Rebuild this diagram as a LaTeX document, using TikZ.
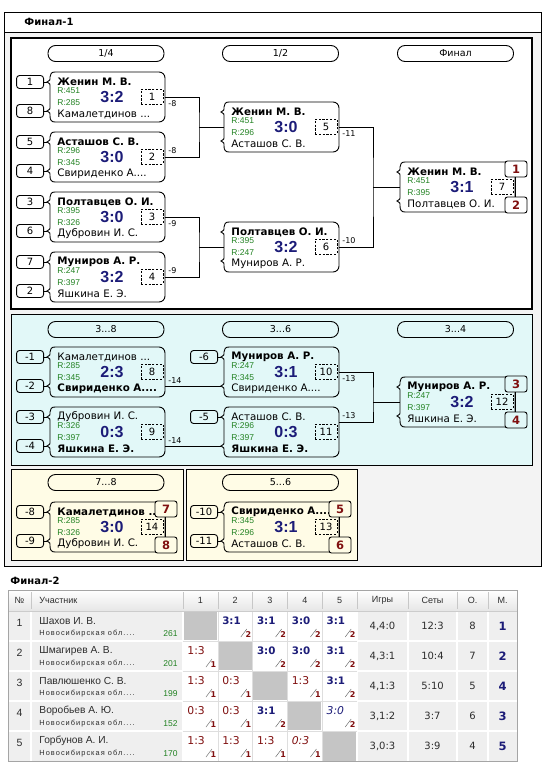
\documentclass[tikz,border=0pt]{standalone}
\usepackage{fontspec}
\setmainfont{DejaVu Sans}
\newfontfamily\arialf{Liberation Sans}
\newfontfamily\regionf[LetterSpace=14]{Liberation Sans}
\usetikzlibrary{positioning,calc}

\definecolor{scoreblue}{RGB}{28,28,120}
\definecolor{rgreen}{RGB}{34,130,34}
\definecolor{placered}{RGB}{128,16,16}
\definecolor{cyanbg}{RGB}{226,248,248}
\definecolor{yellowbg}{RGB}{255,252,230}
\definecolor{framebg}{RGB}{243,243,243}
\definecolor{cellgray}{RGB}{239,239,239}
\definecolor{diaggray}{RGB}{197,197,197}
\definecolor{hdrgray}{RGB}{230,230,230}
\definecolor{tableline}{RGB}{165,165,165}
\definecolor{celltext}{RGB}{45,45,45}

\tikzset{
  pill/.style={draw, rounded corners=7.5pt, minimum width=116pt, minimum height=16pt, inner sep=0pt, font=\fontsize{9.5}{10}\selectfont},
  seedbox/.style={draw, rounded corners=3pt, minimum width=27pt, minimum height=13pt, inner sep=0pt, font=\fontsize{10}{10}\selectfont},
  numbox/.style={draw, dash pattern=on 2.2pt off 1.6pt, minimum width=22pt, minimum height=15pt, inner sep=0pt, font=\fontsize{10}{10}\selectfont},
  placebox/.style={draw, rounded corners=2.5pt, minimum width=22pt, minimum height=16pt, inner sep=0pt, text=placered, font=\bfseries\fontsize{11.5}{12}\selectfont},
  pname/.style={anchor=west, inner sep=0pt, font=\fontsize{10.3}{11}\selectfont},
  rating/.style={anchor=west, inner sep=0pt, text=rgreen, font=\arialf\fontsize{8.5}{9}\selectfont},
  score/.style={inner sep=0pt, text=scoreblue, font=\arialf\bfseries\fontsize{16}{16}\selectfont},
  nextlbl/.style={inner sep=0pt, font=\fontsize{8}{8}\selectfont},
  hdr/.style={inner sep=0pt, text=celltext, font=\arialf\fontsize{9}{9}\selectfont},
  winsc/.style={anchor=west, inner sep=0pt, text=scoreblue, font=\bfseries\fontsize{10.3}{10}\selectfont},
  losssc/.style={anchor=west, inner sep=0pt, text=placered, font=\fontsize{10.8}{10}\selectfont},
  winit/.style={anchor=west, inner sep=0pt, text=scoreblue, font=\itshape\fontsize{10.8}{10}\selectfont},
  lossit/.style={anchor=west, inner sep=0pt, text=placered, font=\itshape\fontsize{10.8}{10}\selectfont},
  smallsc/.style={inner sep=0pt, text=placered, font=\bfseries\fontsize{8}{8}\selectfont},
  tnum/.style={inner sep=0pt, text=celltext, font=\fontsize{10}{10}\selectfont},
}

\begin{document}
\begin{tikzpicture}[x=1pt, y=-1pt, line width=0.9pt]

  \useasboundingbox (0,0) rectangle (547,766);

  % one match: id, left x, top y, upper line, rating 1, rating 2, score, lower line, number
  \newcommand\match[9]{%
    \coordinate (#1-a) at ({#2},{#3+10});
    \coordinate (#1-b) at ({#2},{#3+39});
    \coordinate (#1-l) at ({#2+3},{#3+25});
    \coordinate (#1-r) at ({#2+118},{#3+25});
    \draw[rounded corners=6pt] ({#2+8},{#3}) -- ({#2+118},{#3}) -- ({#2+118},{#3+50}) -- ({#2+8},{#3+50});
    \draw ({#2+8},{#3}) .. controls ({#2+4.5},{#3}) and ({#2+3},{#3+2}) .. ({#2+3},{#3+5})
      .. controls ({#2+3},{#3+8.5}) .. (#1-a) .. controls ({#2+3},{#3+11.5}) .. ({#2+3},{#3+15})
      -- ({#2+3},{#3+34}) .. controls ({#2+3},{#3+37.5}) .. (#1-b) .. controls ({#2+3},{#3+40.5}) .. ({#2+3},{#3+44})
      .. controls ({#2+3},{#3+48}) and ({#2+4.5},{#3+50}) .. ({#2+8},{#3+50});
    \node[pname] (#1-p) at ({#2+10},{#3+10}) {#4};
    \node[rating] (#1-x) at ({#2+10},{#3+19}) {#5};
    \node[rating] (#1-y) at ({#2+10},{#3+31}) {#6};
    \node[score] (#1-s) at ({#2+65},{#3+25}) {#7};
    \node[pname] (#1-q) at ({#2+10},{#3+42}) {#8};
    \node[numbox] (#1-n) at ({#2+105},{#3+24.5}) {#9};
  }
  % places of a last match: id, upper place, lower place, background
  \newcommand\places[4]{%
    \node[placebox, fill=#4] (#1-u) at ($(#1-r)+(1,-18)$) {#2};
    \node[placebox, fill=#4] (#1-w) at ($(#1-r)+(1,18)$) {#3};
    \draw (#1-u.south -| #1-r) -- (#1-w.north -| #1-r);
  }
  % one table cell: column, row, score, points, style
  \newcommand\scell[5]{%
    \node[#5] (c#1#2) at ({183+34.8*(#1-1)+4},{611+30*(#2-1)+10}) {#3};
    \draw[line width=0.45pt, black!60] ({183+34.8*(#1-1)+23},{611+30*(#2-1)+26}) -- ++(6,-8);
    \node[smallsc] (d#1#2) at ({183+34.8*(#1-1)+30.5},{611+30*(#2-1)+24}) {#4};
  }

  %% frames
  \draw[fill=framebg] (4,12) rectangle (541,566);
  \draw[fill=white] (4,12) rectangle (541,32);
  \node[anchor=west, inner sep=0pt, font=\bfseries\fontsize{10}{10}\selectfont] (f1) at (24,22) {Финал-1};
  \draw[fill=white, line width=1.2pt] (11,38) rectangle (532,309);
  \draw[fill=cyanbg] (11,314) rectangle (532,465);
  \draw[fill=yellowbg] (11,469) rectangle (183,560);
  \draw[fill=yellowbg] (186,469) rectangle (357,560);

  %% 1/4 .. final
  \node[pill] (t1) at (106,53.5) {1/4};
  \node[pill] (t2) at (280.5,53.5) {1/2};
  \node[pill] (t3) at (455.5,53.5) {Финал};

  \match{m1}{47}{72}{\textbf{Женин М. В.}}{R:451}{R:285}{3:2}{Камалетдинов ...}{1}
  \match{m2}{47}{132}{\textbf{Асташов С. В.}}{R:296}{R:345}{3:0}{Свириденко А....}{2}
  \match{m3}{47}{192}{\textbf{Полтавцев О. И.}}{R:395}{R:326}{3:0}{Дубровин И. С.}{3}
  \match{m4}{47}{252}{\textbf{Муниров А. Р.}}{R:247}{R:397}{3:2}{Яшкина Е. Э.}{4}
  \match{m5}{221}{102}{\textbf{Женин М. В.}}{R:451}{R:296}{3:0}{Асташов С. В.}{5}
  \match{m6}{221}{222}{\textbf{Полтавцев О. И.}}{R:395}{R:247}{3:2}{Муниров А. Р.}{6}
  \match{m7}{397}{162}{\textbf{Женин М. В.}}{R:451}{R:395}{3:1}{Полтавцев О. И.}{7}
  \places{m7}{1}{2}{white}

  \node[seedbox, left=3pt of m1-a] (s1) {1};  \draw (s1) -- (m1-a);
  \node[seedbox, left=3pt of m1-b] (s8) {8};  \draw (s8) -- (m1-b);
  \node[seedbox, left=3pt of m2-a] (s5) {5};  \draw (s5) -- (m2-a);
  \node[seedbox, left=3pt of m2-b] (s4) {4};  \draw (s4) -- (m2-b);
  \node[seedbox, left=3pt of m3-a] (s3) {3};  \draw (s3) -- (m3-a);
  \node[seedbox, left=3pt of m3-b] (s6) {6};  \draw (s6) -- (m3-b);
  \node[seedbox, left=3pt of m4-a] (s7) {7};  \draw (s7) -- (m4-a);
  \node[seedbox, left=3pt of m4-b] (s2) {2};  \draw (s2) -- (m4-b);

  \coordinate (j1) at ($(m5-l)+(-25,0)$);
  \coordinate (j2) at ($(m6-l)+(-25,0)$);
  \coordinate (j3) at ($(m7-l)+(-27,0)$);
  \draw (m1-r) -| (j1) |- (m2-r);  \draw (j1) -- (m5-l); %% 1,2 -> 5
  \draw (m3-r) -| (j2) |- (m4-r);  \draw (j2) -- (m6-l); %% 3,4 -> 6
  \draw (m5-r) -| (j3) |- (m6-r);  \draw (j3) -- (m7-l); %% 5,6 -> 7
  \node[nextlbl, below right=3pt and 3pt of m1-r] (l1) {-8};
  \node[nextlbl, above right=2.5pt and 3pt of m2-r] (l2) {-8};
  \node[nextlbl, below right=3pt and 3pt of m3-r] (l3) {-9};
  \node[nextlbl, above right=2.5pt and 3pt of m4-r] (l4) {-9};
  \node[nextlbl, below right=3pt and 3pt of m5-r] (l5) {-11};
  \node[nextlbl, above right=2.5pt and 3pt of m6-r] (l6) {-10};

  %% 3..8
  \node[pill] (t4) at (106,329.5) {3...8};
  \node[pill] (t5) at (280.5,329.5) {3...6};
  \node[pill] (t6) at (455.5,329.5) {3...4};

  \match{m8}{47}{347}{Камалетдинов ...}{R:285}{R:345}{2:3}{\textbf{Свириденко А....}}{8}
  \match{m9}{47}{407}{Дубровин И. С.}{R:326}{R:397}{0:3}{\textbf{Яшкина Е. Э.}}{9}
  \match{m10}{221}{347}{\textbf{Муниров А. Р.}}{R:247}{R:345}{3:1}{Свириденко А....}{10}
  \match{m11}{221}{407}{Асташов С. В.}{R:296}{R:397}{0:3}{\textbf{Яшкина Е. Э.}}{11}
  \match{m12}{397}{377}{\textbf{Муниров А. Р.}}{R:247}{R:397}{3:2}{Яшкина Е. Э.}{12}
  \places{m12}{3}{4}{cyanbg}

  \node[seedbox, left=3pt of m8-a] (s-1) {-1};   \draw (s-1) -- (m8-a);
  \node[seedbox, left=3pt of m8-b] (s-2) {-2};   \draw (s-2) -- (m8-b);
  \node[seedbox, left=3pt of m9-a] (s-3) {-3};   \draw (s-3) -- (m9-a);
  \node[seedbox, left=3pt of m9-b] (s-4) {-4};   \draw (s-4) -- (m9-b);
  \node[seedbox, left=3pt of m10-a] (s-6) {-6};  \draw (s-6) -- (m10-a);
  \node[seedbox, left=3pt of m11-a] (s-5) {-5};  \draw (s-5) -- (m11-a);

  \coordinate (o8) at (m10-b -| m8-r);
  \coordinate (o9) at (m11-b -| m9-r);
  \coordinate (o11) at ($(m11-r)+(0,-10)$);
  \coordinate (j4) at ($(m12-l)+(-27,0)$);
  \draw (o8) -- (m10-b); %% 8 -> 10
  \draw (o9) -- (m11-b); %% 9 -> 11
  \draw (m10-r) -| (j4) |- (o11);  \draw (j4) -- (m12-l); %% 10,11 -> 12
  \node[nextlbl, above right=2.5pt and 3pt of o8] (l8) {-14};
  \node[nextlbl, above right=2.5pt and 3pt of o9] (l9) {-14};
  \node[nextlbl, below right=3pt and 3pt of m10-r] (l10) {-13};
  \node[nextlbl, above right=2.5pt and 3pt of o11] (l11) {-13};

  %% 7..8 and 5..6
  \node[pill] (t7) at (106,482.5) {7...8};
  \node[pill] (t8) at (280.5,482.5) {5...6};

  \match{m14}{47}{502}{\textbf{Камалетдинов ...}}{R:285}{R:326}{3:0}{Дубровин И. С.}{14}
  \places{m14}{7}{8}{yellowbg}
  \match{m13}{221}{502}{\textbf{Свириденко А....}}{R:345}{R:296}{3:1}{Асташов С. В.}{13}
  \places{m13}{5}{6}{yellowbg}

  \node[seedbox, left=3pt of m14-a] (s-8) {-8};   \draw (s-8) -- (m14-a);
  \node[seedbox, left=3pt of m14-b] (s-9) {-9};   \draw (s-9) -- (m14-b);
  \node[seedbox, left=3pt of m13-a] (s-10) {-10}; \draw (s-10) -- (m13-a);
  \node[seedbox, left=3pt of m13-b] (s-11) {-11}; \draw (s-11) -- (m13-b);

  %% Финал-2 table
  \node[anchor=west, inner sep=0pt, font=\bfseries\fontsize{10}{10}\selectfont] (f2) at (10,581) {Финал-2};
  \fill[cellgray] (8,611) rectangle (517,761);
  \shade[top color=white, bottom color=hdrgray] (8,590) rectangle (517,611);
  \foreach \i in {1,...,5}
    \foreach \j in {1,...,5} {
      \ifnum\i=\j\relax
        \fill[diaggray] ({183+34.8*(\j-1)},{611+30*(\i-1)}) rectangle ++(34.8,30);
      \else
        \fill[white] ({183+34.8*(\j-1)},{611+30*(\i-1)}) rectangle ++(34.8,30);
      \fi
    }
  \foreach \yy in {641,671,701,731}
    \draw[white, line width=1.5pt] (8,\yy) -- (517,\yy);
  \foreach \xx in {31,183,217.8,252.6,287.4,322.2,357,408,457,488}
    \draw[white, line width=1.5pt] (\xx,611) -- (\xx,761);
  \foreach \k in {1,...,4} {
    \draw[black!13, line width=0.5pt] ({183+34.8*\k},611) -- ({183+34.8*\k},761);
    \draw[black!13, line width=0.5pt] (183,{611+30*\k}) -- (357,{611+30*\k});
  }
  \foreach \xx in {31,183,217.8,252.6,287.4,322.2,357,408,457,488}
    \draw[black!22, line width=0.6pt] (\xx,592) -- (\xx,609);
  \draw[black!20, line width=0.6pt] (8,611) -- (517,611);
  \draw[tableline, line width=0.8pt] (8,590) rectangle (517,761);

  \node[hdr] (h0) at (19.5,600) {№};
  \node[hdr, anchor=west] (h1) at (39,600) {Участник};
  \foreach \k in {1,...,5}
    \node[hdr] (hc\k) at ({183+34.8*(\k-0.5)},600) {\k};
  \node[hdr] (h2) at (382.5,600) {Игры};
  \node[hdr] (h3) at (432.5,600) {Сеты};
  \node[hdr] (h4) at (472.5,600) {О.};
  \node[hdr] (h5) at (502.5,600) {М.};

  \foreach \i/\nm/\pts/\gm/\st/\ob/\pl in {
      1/Шахов И. В./261/{4,4:0}/12:3/8/1,
      2/Шмагирев А. В./201/{4,3:1}/10:4/7/2,
      3/Павлюшенко С. В./199/{4,1:3}/5:10/5/4,
      4/Воробьев А. Ю./152/{3,1:2}/3:7/6/3,
      5/Горбунов А. И./170/{3,0:3}/3:9/4/5} {
    \node[inner sep=0pt, text=celltext, font=\arialf\fontsize{10.5}{10}\selectfont] (n\i) at (19.5,{611+30*(\i-1)+12}) {\i};
    \node[anchor=west, inner sep=0pt, text=celltext, font=\arialf\fontsize{10.2}{10}\selectfont] (p\i) at (39,{611+30*(\i-1)+10}) {\nm};
    \node[anchor=west, inner sep=0pt, text=celltext, font=\regionf\fontsize{7.4}{8}\selectfont] (g\i) at (39,{611+30*(\i-1)+23}) {Новосибирская обл....};
    \node[anchor=east, inner sep=0pt, text=rgreen, font=\arialf\fontsize{8.5}{9}\selectfont] (r\i) at (178,{611+30*(\i-1)+23}) {\pts};
    \node[tnum] (a\i) at (382.5,{611+30*(\i-1)+15}) {\gm};
    \node[tnum] (b\i) at (432.5,{611+30*(\i-1)+15}) {\st};
    \node[tnum] (o\i) at (472.5,{611+30*(\i-1)+15}) {\ob};
    \node[inner sep=0pt, text=scoreblue, font=\bfseries\fontsize{11.5}{11}\selectfont] (q\i) at (502.5,{611+30*(\i-1)+15}) {\pl};
  }

  \scell{2}{1}{3:1}{2}{winsc}  \scell{3}{1}{3:1}{2}{winsc}  \scell{4}{1}{3:0}{2}{winsc}  \scell{5}{1}{3:1}{2}{winsc}
  \scell{1}{2}{1:3}{1}{losssc} \scell{3}{2}{3:0}{2}{winsc}  \scell{4}{2}{3:0}{2}{winsc}  \scell{5}{2}{3:1}{2}{winsc}
  \scell{1}{3}{1:3}{1}{losssc} \scell{2}{3}{0:3}{1}{losssc} \scell{4}{3}{1:3}{1}{losssc} \scell{5}{3}{3:1}{2}{winsc}
  \scell{1}{4}{0:3}{1}{losssc} \scell{2}{4}{0:3}{1}{losssc} \scell{3}{4}{3:1}{2}{winsc}  \scell{5}{4}{3:0}{2}{winit}
  \scell{1}{5}{1:3}{1}{losssc} \scell{2}{5}{1:3}{1}{losssc} \scell{3}{5}{1:3}{1}{losssc} \scell{4}{5}{0:3}{1}{lossit}

\end{tikzpicture}
\end{document}
